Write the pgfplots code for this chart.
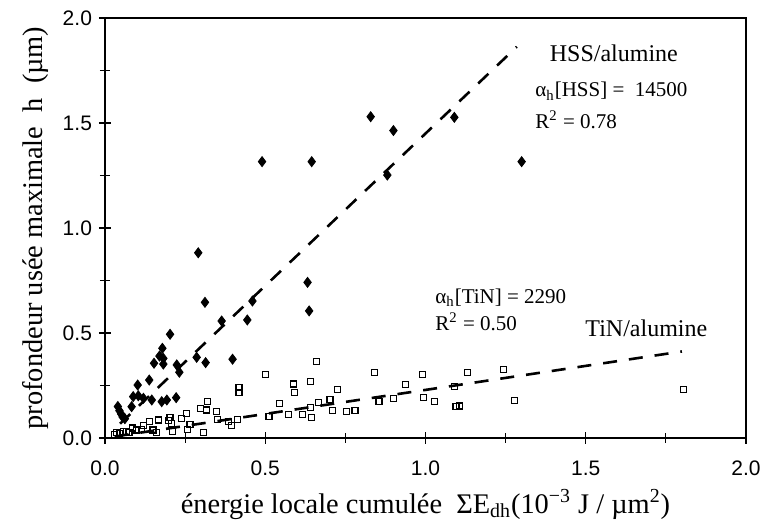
\documentclass[border=0pt]{standalone}
\usepackage{fontspec}
\setmainfont{Liberation Serif}
\newfontfamily\arialfont{Liberation Sans}
\usepackage{pgfplots}
\usepackage{pgfplotstable}
\pgfplotsset{compat=1.18}
\pgfplotstableread{
x y
0.040 0.150
0.045 0.130
0.050 0.115
0.055 0.100
0.062 0.092
0.083 0.149
0.088 0.197
0.102 0.252
0.104 0.201
0.120 0.189
0.138 0.276
0.146 0.181
0.153 0.356
0.170 0.390
0.177 0.173
0.179 0.427
0.182 0.379
0.182 0.352
0.193 0.181
0.203 0.494
0.222 0.192
0.224 0.348
0.232 0.313
0.286 0.384
0.291 0.882
0.312 0.646
0.314 0.359
0.364 0.557
0.398 0.375
0.444 0.562
0.460 0.652
0.490 1.316
0.632 0.741
0.637 0.605
0.645 1.316
0.829 1.530
0.881 1.252
0.900 1.464
1.090 1.527
1.300 1.316
}\hssdata
\pgfplotstableread{
x y
0.029 0.015
0.036 0.025
0.045 0.020
0.057 0.030
0.068 0.030
0.075 0.025
0.085 0.048
0.099 0.038
0.114 0.040
0.120 0.058
0.140 0.078
0.150 0.038
0.160 0.025
0.166 0.086
0.198 0.082
0.203 0.097
0.208 0.070
0.210 0.030
0.239 0.094
0.255 0.118
0.257 0.040
0.265 0.066
0.299 0.141
0.307 0.028
0.319 0.175
0.317 0.133
0.348 0.125
0.352 0.088
0.385 0.080
0.395 0.058
0.414 0.089
0.418 0.240
0.418 0.218
0.502 0.304
0.512 0.102
0.544 0.165
0.572 0.112
0.588 0.257
0.591 0.218
0.617 0.110
0.640 0.144
0.640 0.268
0.645 0.097
0.660 0.363
0.666 0.168
0.702 0.184
0.710 0.130
0.725 0.232
0.754 0.125
0.780 0.130
0.840 0.311
0.855 0.173
0.900 0.189
0.937 0.256
0.991 0.303
0.995 0.192
1.029 0.173
1.091 0.244
1.095 0.149
1.105 0.152
1.130 0.311
1.243 0.327
1.277 0.178
1.806 0.232
}\tindata
\begin{document}
\begin{tikzpicture}
\begin{axis}[
  scale only axis, width=320.5pt, height=210pt,
  xmin=0, xmax=2, ymin=0, ymax=2,
  xtick={0,0.5,1,1.5,2}, ytick={0,0.5,1,1.5,2},
  minor tick num=1,
  tick align=center, tick pos=left,
  major tick length=6pt, minor tick length=5pt,
  axis line style={line width=0.7pt},
  every tick/.style={black, line width=0.6pt},
  tick label style={font=\arialfont\fontsize{10.5}{12}\selectfont,
    /pgf/number format/assume math mode=true,
    /pgf/number format/fixed, /pgf/number format/fixed zerofill,
    /pgf/number format/precision=1},
  xticklabel style={yshift=-5pt},
  label style={font=\fontsize{14.2}{16}\selectfont},
  xlabel={énergie locale cumulée\ \ ΣE\textsubscript{dh}(10\textsuperscript{−3} J / µm\textsuperscript{2})},
  ylabel={profondeur usée maximale\ \ h\ \ (µm)},
  clip=false,
]
\draw[line width=0.7pt] (rel axis cs:0,1) -- (rel axis cs:1,1) -- (rel axis cs:1,0);
\draw[line width=1pt] (rel axis cs:0,1) -- (rel axis cs:0,0) -- (rel axis cs:1,0);
\addplot[only marks, mark=diamond*, mark size=2.5pt, black] table[x=x,y=y] {\hssdata};
\addplot[only marks, mark=square, mark size=1.5pt, black, mark options={line width=0.6pt, fill=white}] table[x=x,y=y] {\tindata};
\addplot[black, line width=1.3pt, dash pattern=on 7pt off 6pt] coordinates {(0.047,0.068) (1.285,1.863)};
\addplot[black, line width=1.3pt, dash pattern=on 7pt off 6pt] coordinates {(0.03,0.007) (1.80,0.412)};
\node[anchor=base west, font=\fontsize{12}{14}\selectfont] at (axis cs:1.366,1.795) {HSS/alumine};
\node[anchor=base west, font=\fontsize{10.5}{12}\selectfont] at (axis cs:1.321,1.624) {α\textsubscript{h}[HSS] =\ \ 14500};
\node[anchor=base west, font=\fontsize{10.5}{12}\selectfont] at (axis cs:1.321,1.476) {R\textsuperscript{2} = 0.78};
\node[anchor=base west, font=\fontsize{10.5}{12}\selectfont] at (axis cs:1.009,0.641) {α\textsubscript{h}[TiN] = 2290};
\node[anchor=base west, font=\fontsize{10.5}{12}\selectfont] at (axis cs:1.009,0.514) {R\textsuperscript{2} = 0.50};
\node[anchor=base west, font=\fontsize{12}{14}\selectfont] at (axis cs:1.477,0.482) {TiN/alumine};
\end{axis}
\pgfresetboundingbox
\useasboundingbox ([xshift=-52.5pt,yshift=-42.5pt]current axis.south west) rectangle ([xshift=7.5pt,yshift=9pt]current axis.north east);
\end{tikzpicture}
\end{document}
